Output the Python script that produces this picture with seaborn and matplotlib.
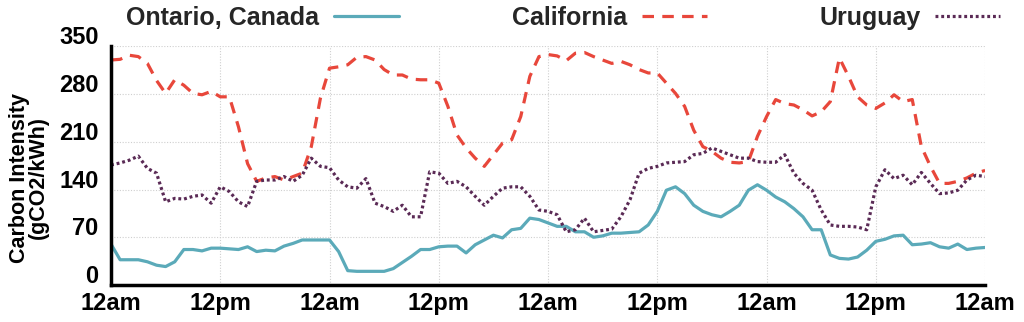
import numpy as np
import pandas as pd
import matplotlib
matplotlib.use("Agg")
import matplotlib.pyplot as plt
import matplotlib.transforms as mtransforms
import seaborn as sns
from matplotlib.lines import Line2D

# Hourly carbon intensity (gCO2/kWh) over four days, starting at midnight
ontario = [
    60, 37, 37, 37, 34, 29, 27, 34, 52, 52, 50, 54, 54, 53, 52, 56, 49, 51, 50, 57, 61, 66, 66, 66,
    66, 49, 21, 20, 20, 20, 20, 24, 33, 42, 52, 52, 56, 57, 57, 47, 59, 66, 73, 69, 81, 83, 98, 96,
    91, 86, 86, 78, 78, 70, 72, 76, 76, 77, 78, 88, 108, 139, 144, 134, 117, 108, 103, 100, 108, 117, 139, 147,
    139, 129, 122, 112, 100, 81, 81, 44, 39, 38, 41, 51, 64, 67, 72, 73, 59, 60, 62, 56, 54, 60, 52, 54,
    55,
]
california = [
    330, 331, 337, 335, 325, 300, 281, 301, 293, 281, 279, 284, 276, 276, 232, 178, 152, 157, 159, 154, 159, 164, 203, 274,
    318, 320, 323, 334, 335, 330, 316, 308, 308, 302, 301, 301, 296, 262, 220, 201, 186, 174, 191, 208, 213, 247, 306, 335,
    338, 336, 329, 340, 341, 335, 330, 325, 328, 323, 316, 311, 311, 296, 281, 262, 227, 203, 196, 186, 180, 179, 181, 218,
    247, 272, 266, 264, 257, 248, 254, 269, 333, 306, 276, 264, 259, 267, 279, 269, 272, 203, 174, 149, 149, 152, 157, 164,
    168,
]
uruguay = [
    176, 179, 183, 189, 171, 164, 122, 127, 126, 130, 132, 120, 144, 137, 122, 115, 152, 154, 154, 159, 152, 161, 186, 174,
    172, 154, 144, 142, 156, 120, 115, 108, 117, 100, 100, 166, 164, 149, 152, 144, 130, 117, 130, 142, 144, 144, 130, 110,
    108, 103, 78, 81, 98, 78, 80, 82, 100, 125, 164, 171, 174, 179, 180, 181, 191, 193, 201, 196, 191, 186, 186, 181,
    180, 180, 191, 164, 149, 139, 110, 88, 86, 86, 85, 81, 144, 169, 156, 161, 147, 165, 149, 134, 135, 139, 154, 161,
    159,
]
hours = np.arange(len(ontario))

region_names = ["Ontario, Canada", "California", "Uruguay"]
region_colors = ["#5BAAB9", "#E8473B", "#5A2A55"]
region_styles = ["-", (0, (3.6, 2.6)), (0, (0.9, 0.9))]

tick_hours = list(range(0, 97, 12))
tick_labels = ["12am", "12pm"] * 4 + ["12am"]
y_ticks = [0, 70, 140, 210, 280, 350]

df = pd.DataFrame({
    "hour": np.tile(hours, 3),
    "intensity": ontario + california + uruguay,
    "region": np.repeat(region_names, len(hours)),
})

sns.set_theme(style="white")
plt.rcParams["font.family"] = ["Liberation Sans", "DejaVu Sans"]
plt.rcParams["font.weight"] = "bold"

fig = plt.figure(figsize=(10.24, 3.22), dpi=100)
ax = fig.add_axes([0.1084, 0.115, 0.8536, 0.741])

handles = []
for name, color, ls in zip(region_names, region_colors, region_styles):
    sub = df[df["region"] == name]
    sns.lineplot(data=sub, x="hour", y="intensity", ax=ax, color=color,
                 linewidth=2.3, linestyle=ls, legend=False)
    handles.append(Line2D([], [], color=color, linewidth=2.3, linestyle=ls))

ax.set_xlim(0, 96)
ax.set_ylim(0, 350)
ax.set_xticks(tick_hours)
ax.set_xticklabels(tick_labels)
ax.set_yticks(y_ticks)
ax.tick_params(axis="x", length=0, labelsize=17, colors="black", pad=5)
ax.tick_params(axis="y", direction="in", length=5, width=1, labelsize=17,
               colors="black", pad=9)
for lbl in ax.get_xticklabels():
    lbl.set_fontweight("bold")
# y tick labels sit just above their gridlines
lift = mtransforms.ScaledTranslation(0, 2 / 100, fig.dpi_scale_trans)
for lbl in ax.get_yticklabels():
    lbl.set_fontweight("bold")
    lbl.set_verticalalignment("baseline")
    lbl.set_transform(lbl.get_transform() + lift)

ax.grid(True, color="#cfcfcf", linestyle=(0, (1, 1.5)), linewidth=0.8)
ax.set_axisbelow(True)
for side in ["top", "right"]:
    ax.spines[side].set_visible(False)
for side in ["left", "bottom"]:
    ax.spines[side].set_color("black")
    ax.spines[side].set_linewidth(2.5)

ax.set_xlabel("")
ax.set_ylabel("Carbon Intensity\n(gCO2/kWh)", fontsize=15.5, fontweight="bold",
              color="black", linespacing=0.9)
ax.yaxis.set_label_coords(-0.071, 0.45)

fig.legend(handles, region_names, loc="center", bbox_to_anchor=(0.55, 0.944),
           ncol=3, frameon=False, markerfirst=False, handlelength=2.6,
           handletextpad=0.6, columnspacing=4.5,
           prop={"size": 18, "weight": "bold"})

fig.savefig("out.png", dpi=100, facecolor="white")
